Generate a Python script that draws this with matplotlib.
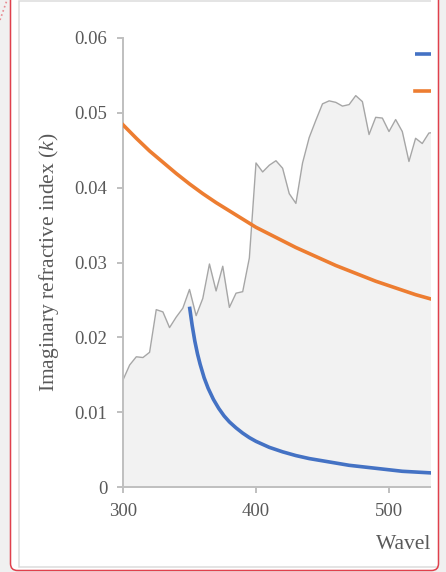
import numpy as np
import matplotlib.pyplot as plt
from matplotlib.patches import Rectangle, FancyBboxPatch
from matplotlib.lines import Line2D
from matplotlib.transforms import IdentityTransform

plt.rcParams['font.family'] = ['Liberation Serif', 'DejaVu Serif']
plt.rcParams['mathtext.fontset'] = 'custom'
plt.rcParams['mathtext.rm'] = 'Liberation Serif'
plt.rcParams['mathtext.it'] = 'Liberation Serif:italic'

# measured spectrum (gray, filled)
wl_meas = np.arange(300, 540, 5)
k_meas = [0.0143, 0.0163, 0.0174, 0.0173, 0.0180, 0.0237, 0.0234, 0.0213,
          0.0227, 0.0239, 0.0264, 0.0229, 0.0252, 0.0298, 0.0262, 0.0295,
          0.0240, 0.0259, 0.0261, 0.0306, 0.0433, 0.0421, 0.0430, 0.0436,
          0.0426, 0.0392, 0.0379, 0.0433, 0.0467, 0.0490, 0.0512, 0.0516,
          0.0514, 0.0509, 0.0511, 0.0523, 0.0515, 0.0471, 0.0494, 0.0493,
          0.0475, 0.0491, 0.0475, 0.0435, 0.0466, 0.0459, 0.0473, 0.0474]

# blue curve
wl_blue = [350, 352, 354, 356, 358, 361, 364, 368, 372, 376, 380, 385, 390,
           395, 400, 410, 420, 430, 440, 450, 460, 470, 480, 490, 500, 510,
           520, 530, 540]
k_blue = [0.0241, 0.0216, 0.0195, 0.0178, 0.0164, 0.0146, 0.0132, 0.0117,
          0.0105, 0.0095, 0.0087, 0.0079, 0.0072, 0.0066, 0.0061, 0.0053,
          0.0047, 0.0042, 0.0038, 0.0035, 0.0032, 0.0029, 0.0027, 0.0025,
          0.0023, 0.0021, 0.0020, 0.0019, 0.0018]

# orange curve
wl_orange = np.arange(300, 550, 10)
k_orange = [0.0484, 0.0466, 0.0449, 0.0434, 0.0419, 0.0405, 0.0392, 0.0380,
            0.0369, 0.0358, 0.0347, 0.0338, 0.0329, 0.0320, 0.0312, 0.0304,
            0.0296, 0.0289, 0.0282, 0.0275, 0.0269, 0.0263, 0.0257, 0.0252,
            0.0247]

W, H = 446, 572
fig = plt.figure(figsize=(W / 100, H / 100), dpi=100, facecolor='#f0f0f0')
px = IdentityTransform()

# page frame behind the chart
fig.add_artist(FancyBboxPatch((10.5, 1.5), 428, 620, boxstyle='round,pad=0,rounding_size=7',
                              fc='white', ec='none', transform=px, zorder=-3))
fig.add_artist(Rectangle((18.5, 5), 600, 566.5, fc='white', ec='#dcdcdc', lw=1.1,
                         transform=px, zorder=-2))

ax = fig.add_axes([123 / W, 1 - 487 / H, (431 - 123) / W, (487 - 38) / H])
ax.set_facecolor('none')

ax.fill_between(wl_meas, k_meas, 0, color='#f2f2f2', lw=0, zorder=1)
ax.plot(wl_meas, k_meas, color='#a6a6a6', lw=1.0, zorder=2)
blue, = ax.plot(wl_blue, k_blue, color='#4472c4', lw=2.6, solid_capstyle='butt',
                solid_joinstyle='round', zorder=3)
orange, = ax.plot(wl_orange, k_orange, color='#ed7d31', lw=2.6,
                  solid_joinstyle='round', zorder=3)

ax.set_xlim(300, 300 + 308 / 1.33)
ax.set_ylim(0, 0.06)
ax.set_xticks([300, 400, 500])
ax.set_yticks([0, 0.01, 0.02, 0.03, 0.04, 0.05, 0.06])
ax.set_yticklabels(['0', '0.01', '0.02', '0.03', '0.04', '0.05', '0.06'])

for s in ['top', 'right']:
    ax.spines[s].set_visible(False)
for s in ['left', 'bottom']:
    ax.spines[s].set_color('#bfbfbf')
    ax.spines[s].set_linewidth(1.4)
ax.tick_params(axis='both', colors='#bfbfbf', length=4.3, width=1.4, labelcolor='#595959',
               labelsize=13.5)
ax.tick_params(axis='y', pad=7)
ax.tick_params(axis='x', pad=7)

ax.set_ylabel('Imaginary refractive index ($k$)', fontsize=15.5, color='#595959', labelpad=10)
ax.set_xlabel('Wavelength (nm)', fontsize=15.5, color='#595959', ha='left')
ax.xaxis.set_label_coords((376 - 123) / 308, -0.105)

ax.legend([blue, orange], ['Model fit', 'Scattering'], loc='upper left',
          bbox_to_anchor=(415 / W, 1 - 47 / H), bbox_transform=fig.transFigure,
          frameon=False, fontsize=13.5, handlelength=2.5, labelspacing=1.08,
          borderpad=0, borderaxespad=0, handletextpad=0.6)

# crop of the page on the right side
fig.add_artist(Rectangle((431, 10), 7.3, 570, fc='white', ec='none', transform=px, zorder=10))
fig.add_artist(Rectangle((438.8, 0), 10, 580, fc='#f0f0f0', ec='none', transform=px, zorder=10))
fig.add_artist(FancyBboxPatch((10.5, 1.5), 428, 620, boxstyle='round,pad=0,rounding_size=7',
                              fc='none', ec='#e0404c', lw=1.1, transform=px, zorder=12))
fig.add_artist(Line2D([0, 7], [552, 572], color='#e88890', lw=1.2, ls=':', transform=px,
                      zorder=12))

fig.savefig('out.png', dpi=100, facecolor=fig.get_facecolor())
